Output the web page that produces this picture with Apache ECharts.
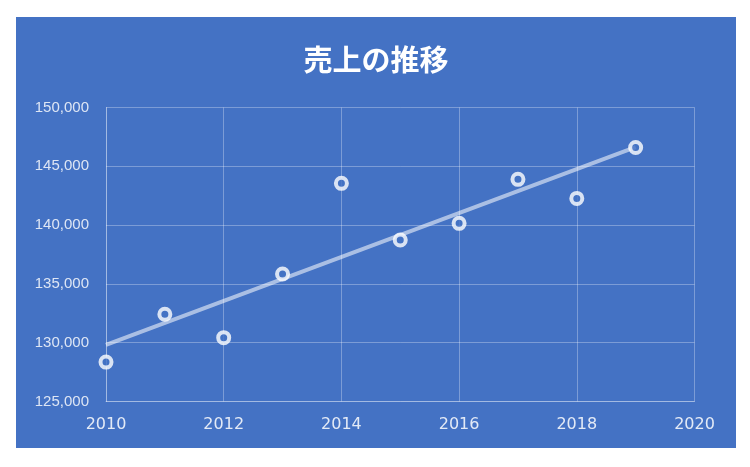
<!DOCTYPE html>
<html>
<head>
<meta charset="utf-8">
<script src="https://cdn.jsdelivr.net/npm/echarts@6/dist/echarts.min.js"></script>
<style>
  html, body { margin: 0; padding: 0; background: #fff; }
  #page { position: relative; width: 750px; height: 467px; }
  #chart { position: absolute; left: 16px; top: 17px; width: 720px; height: 431px; }
</style>
</head>
<body>
<div id="page"><div id="chart"></div></div>
<script>
// 年と売上
const years = [2010, 2011, 2012, 2013, 2014, 2015, 2016, 2017, 2018, 2019];
const sales = [128350, 132420, 130430, 135840, 143550, 138730, 140150, 143890, 142270, 146600];
const xTicks = [2010, 2012, 2014, 2016, 2018, 2020];
const yTicks = [125000, 130000, 135000, 140000, 145000, 150000];

// 線形近似（最小二乗）
function linearFit(xs, ys) {
  const n = xs.length;
  const mx = xs.reduce((a, b) => a + b, 0) / n;
  const my = ys.reduce((a, b) => a + b, 0) / n;
  let sxy = 0, sxx = 0;
  for (let i = 0; i < n; i++) {
    sxy += (xs[i] - mx) * (ys[i] - my);
    sxx += (xs[i] - mx) * (xs[i] - mx);
  }
  const k = sxy / sxx;
  return x => my + k * (x - mx);
}
const fit = linearFit(years, sales);
const first = years[0], last = years[years.length - 1];

const gridColor = 'rgba(255,255,255,0.3)';
const myChart = echarts.init(document.getElementById('chart'));
const option = {
  backgroundColor: '#4472C4',
  animation: false,
  title: {
    text: '売上の推移',
    left: 'center',
    top: 23,
    textStyle: {
      color: '#fff',
      fontSize: 29,
      fontWeight: 'bold',
      fontFamily: '"Noto Sans CJK JP", sans-serif'
    }
  },
  grid: { left: 90, top: 90.5, right: 41.5, bottom: 46.5, containLabel: false },
  xAxis: {
    type: 'value',
    min: xTicks[0],
    max: xTicks[xTicks.length - 1],
    interval: 2,
    axisLine: { show: true, lineStyle: { color: gridColor, width: 1 } },
    axisTick: { show: false },
    splitLine: { show: true, lineStyle: { color: gridColor, width: 1 } },
    axisLabel: {
      color: 'rgba(255,255,255,0.85)',
      fontSize: 16,
      fontFamily: '"DejaVu Sans", sans-serif',
      margin: 15,
      formatter: v => String(v)
    }
  },
  yAxis: {
    type: 'value',
    min: yTicks[0],
    max: yTicks[yTicks.length - 1],
    interval: 5000,
    axisLine: { show: true, lineStyle: { color: gridColor, width: 1 } },
    axisTick: { show: false },
    splitLine: { show: true, lineStyle: { color: gridColor, width: 1 } },
    axisLabel: {
      color: 'rgba(255,255,255,0.82)',
      fontSize: 15,
      fontFamily: '"Liberation Sans", sans-serif',
      margin: 17,
      formatter: v => v.toLocaleString('en-US')
    }
  },
  series: [
    {
      name: '近似',
      type: 'line',
      data: [[first, fit(first)], [last, fit(last)]],
      symbol: 'none',
      lineStyle: { color: 'rgba(255,255,255,0.55)', width: 4 },
      z: 2
    },
    {
      name: '売上',
      type: 'scatter',
      data: years.map((y, i) => [y, sales[i]]),
      symbol: 'circle',
      symbolSize: 11,
      itemStyle: { color: '#4472C4', borderColor: '#fff', borderWidth: 4 },
      z: 3
    }
  ]
};
myChart.setOption(option);
</script>
</body>
</html>
